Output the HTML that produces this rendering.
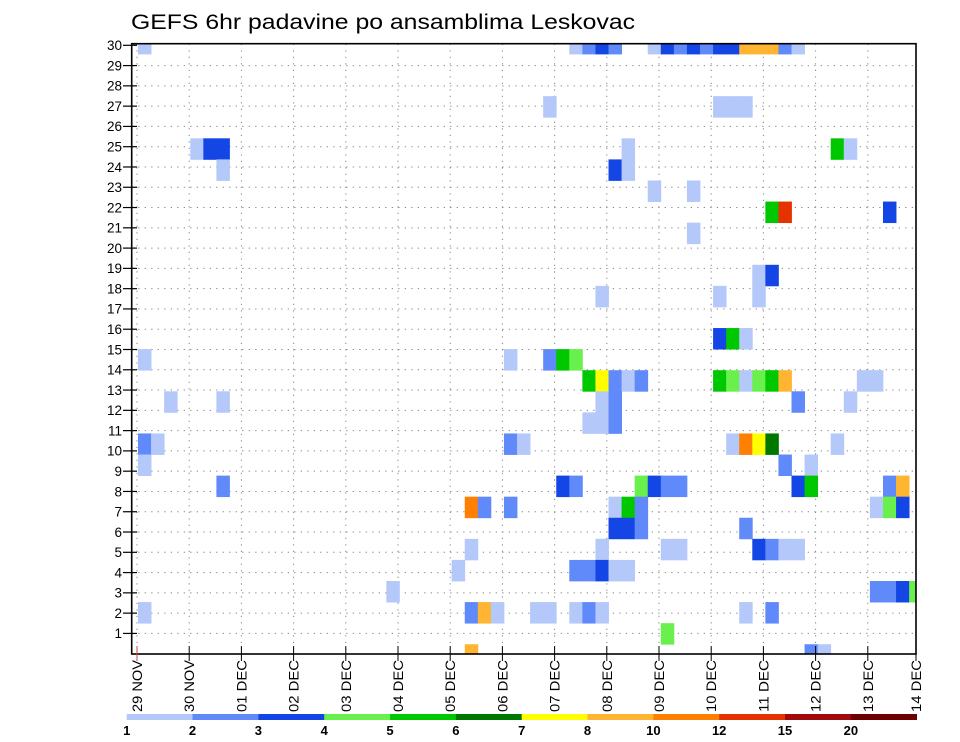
<!DOCTYPE html>
<html><head><meta charset="utf-8"><style>
html,body{margin:0;padding:0;background:#fff;}
svg{display:block;font-family:"Liberation Sans","DejaVu Sans",sans-serif;}
</style></head><body>
<svg id="chart" width="960" height="742" viewBox="0 0 960 742">
<text x="131" y="29" font-size="21" textLength="504" lengthAdjust="spacingAndGlyphs" fill="#000">GEFS 6hr padavine po ansamblima Leskovac</text>
<g id="grid"></g>
<g id="cells"></g>
<g id="axes"></g>
<g id="legend"></g>
</svg>
<script>
// ---- data ----
const dayLabels = ["29 NOV","30 NOV","01 DEC","02 DEC","03 DEC","04 DEC","05 DEC","06 DEC","07 DEC","08 DEC","09 DEC","10 DEC","11 DEC","12 DEC","13 DEC","14 DEC"];
const rowLabels = [1,2,3,4,5,6,7,8,9,10,11,12,13,14,15,16,17,18,19,20,21,22,23,24,25,26,27,28,29,30];
const levels = [1,2,3,4,5,6,7,8,10,12,15,20];
const levelColors = ["#b4c8fa","#6089fa","#1446e6","#6af04c","#00c800","#007800","#ffff00","#ffb432","#ff8000","#e63200","#a00a0a","#6e0000"];
// cells: time step index (6h), ensemble member row, precipitation (mm)
const cellTime = [
0,4,5,6,6,0,28,2,6,0,1,28,29,0,6,25,26,28,25,24,19,0,25,26,27,25,
33,34,35,36,39,40,41,42,43,44,45,46,47,48,49,50,
31,44,45,46,
37,53,54,
36,37,
39,42,
48,49,57,
42,
47,48,
35,44,47,
44,45,46,
31,32,33,
34,35,36,37,38,44,45,46,47,48,49,55,56,
35,36,50,54,
34,35,36,
45,46,47,48,53,
49,51,
32,33,38,39,40,41,50,51,57,58,
36,37,38,56,57,58,
36,37,38,46,
35,40,41,47,48,49,50,
33,34,35,36,37,
56,57,58,59,
30,31,33,34,35,46,48,
40,
51,52];
const cellMember = [
29,24,24,24,23,14,14,12,12,10,10,10,10,9,8,7,7,7,5,4,3,2,2,2,2,0,
29,29,29,29,29,29,29,29,29,29,29,29,29,29,29,29,
26,26,26,26,
24,24,24,
23,23,
22,22,
21,21,21,
20,
18,18,
17,17,17,
15,15,15,
14,14,14,
13,13,13,13,13,13,13,13,13,13,13,13,13,
12,12,12,12,
11,11,11,
10,10,10,10,10,
9,9,
8,8,8,8,8,8,8,8,8,8,
7,7,7,7,7,7,
6,6,6,6,
5,5,5,5,5,5,5,
4,4,4,4,4,
3,3,3,3,
2,2,2,2,2,2,2,
1,
0,0];
const cellPrecip = [
1.5,1.5,3.5,3.5,1.5,1.5,1.5,1.5,1.5,2.5,1.5,2.5,1.5,1.5,2.5,11,2.5,2.5,1.5,1.5,1.5,1.5,2.5,9,1.5,9,
1.5,2.5,3.5,2.5,1.5,3.5,2.5,3.5,2.5,3.5,3.5,9,9,9,2.5,1.5,
1.5,1.5,1.5,1.5,
1.5,5.5,1.5,
3.5,1.5,
1.5,1.5,
5.5,13.5,3.5,
1.5,
1.5,3.5,
1.5,1.5,1.5,
3.5,5.5,1.5,
2.5,5.5,4.5,
5.5,7.5,2.5,1.5,2.5,5.5,4.5,1.5,4.5,5.5,9,1.5,1.5,
1.5,2.5,2.5,1.5,
1.5,1.5,2.5,
1.5,11,7.5,6.5,1.5,
2.5,1.5,
3.5,2.5,4.5,3.5,2.5,2.5,3.5,5.5,2.5,9,
1.5,5.5,2.5,1.5,4.5,3.5,
3.5,3.5,2.5,2.5,
1.5,1.5,1.5,3.5,2.5,1.5,1.5,
2.5,2.5,3.5,1.5,1.5,
2.5,2.5,3.5,4.5,
1.5,1.5,1.5,2.5,1.5,1.5,2.5,
4.5,
2.5,1.5];

// ---- geometry ----
const NS="http://www.w3.org/2000/svg";
const L=131.7,R=916,T=43.7,B=654;
const dayX = d => 137 + d*52.2;
const rowY = r => 653.7 - r*20.28;
const cellW = 13.07, cellH = 21.08;
const cellX = i => 138 + i*cellW;
const cellYc = m => 654.78 - m*cellH;
function colorFor(v){let c=null;for(let k=0;k<levels.length;k++){if(v>=levels[k])c=levelColors[k];}return c;}
function mk(tag,attrs,parent){const e=document.createElementNS(NS,tag);for(const k in attrs)e.setAttribute(k,attrs[k]);parent.appendChild(e);return e;}

// grid
const grid=document.getElementById('grid');
rowLabels.forEach(r=>{ if(r>=30) return;
  const ln=mk('line',{x1:L,x2:R,y1:rowY(r),y2:rowY(r),stroke:'#888','stroke-width':1,'stroke-dasharray':'1.3 5.2'},grid);
  
  
});
dayLabels.forEach((d,k)=>{ const x=Math.min(dayX(k),R); if(x>=R) return;
  const ln=mk('line',{x1:x,x2:x,y1:T,y2:B,stroke:'#888','stroke-width':1,'stroke-dasharray':'1.3 5.2'},grid);
  
  
});

// cells
const cells=document.getElementById('cells');
mk('clipPath',{id:'plotclip'},document.getElementById('chart'));
mk('rect',{x:L,y:T,width:R-L,height:B-T},document.getElementById('plotclip'));
cells.setAttribute('clip-path','url(#plotclip)');
for(let n=0;n<cellTime.length;n++){
  const c=colorFor(cellPrecip[n]); if(!c) continue;
  const r=mk('rect',{x:cellX(cellTime[n]),y:cellYc(cellMember[n])-cellH/2,width:cellW+0.4,height:cellH+0.4,fill:c},cells);
  
  
}

// axes
const axes=document.getElementById('axes');
const frame=mk('rect',{x:L,y:T,width:R-L,height:B-T,fill:'none',stroke:'#000','stroke-width':1.6},axes);


rowLabels.forEach(r=>{
  const y=rowY(r);
  const t=mk('line',{x1:123,x2:137,y1:y,y2:y,stroke:'#000','stroke-width':1.2},axes);
  
  
  const tx=mk('text',{x:122,y:y+4.8,'font-size':13.5,'text-anchor':'end',fill:'#000'},axes);
  tx.textContent=r;
  
  
});
dayLabels.forEach((d,k)=>{
  const x=Math.min(dayX(k),R);
  const t=mk('line',{x1:x,x2:x,y1:646,y2:661,stroke:k===0?'#c44':'#000','stroke-width':1},axes);
  
  
  const tx=mk('text',{x:0,y:0,'font-size':14,'text-anchor':'end',fill:'#000',transform:`translate(${x+5},660) rotate(-90)`},axes);
  tx.textContent=d;
  tx.setAttribute('textLength','52');
  tx.setAttribute('lengthAdjust','spacingAndGlyphs');
  
  
});

// legend
const leg=document.getElementById('legend');
const lw=(916.7-126.7)/12;
levelColors.forEach((c,k)=>{
  const r=mk('rect',{x:126.7+k*lw,y:714,width:lw+0.3,height:6,fill:c},leg);
  
  
});
levels.forEach((v,k)=>{
  const tx=mk('text',{x:126.7+k*lw,y:735,'font-size':13,'font-weight':'bold','text-anchor':'middle',fill:'#000'},leg);
  tx.textContent=v;
  
  
});
</script>
</body></html>
